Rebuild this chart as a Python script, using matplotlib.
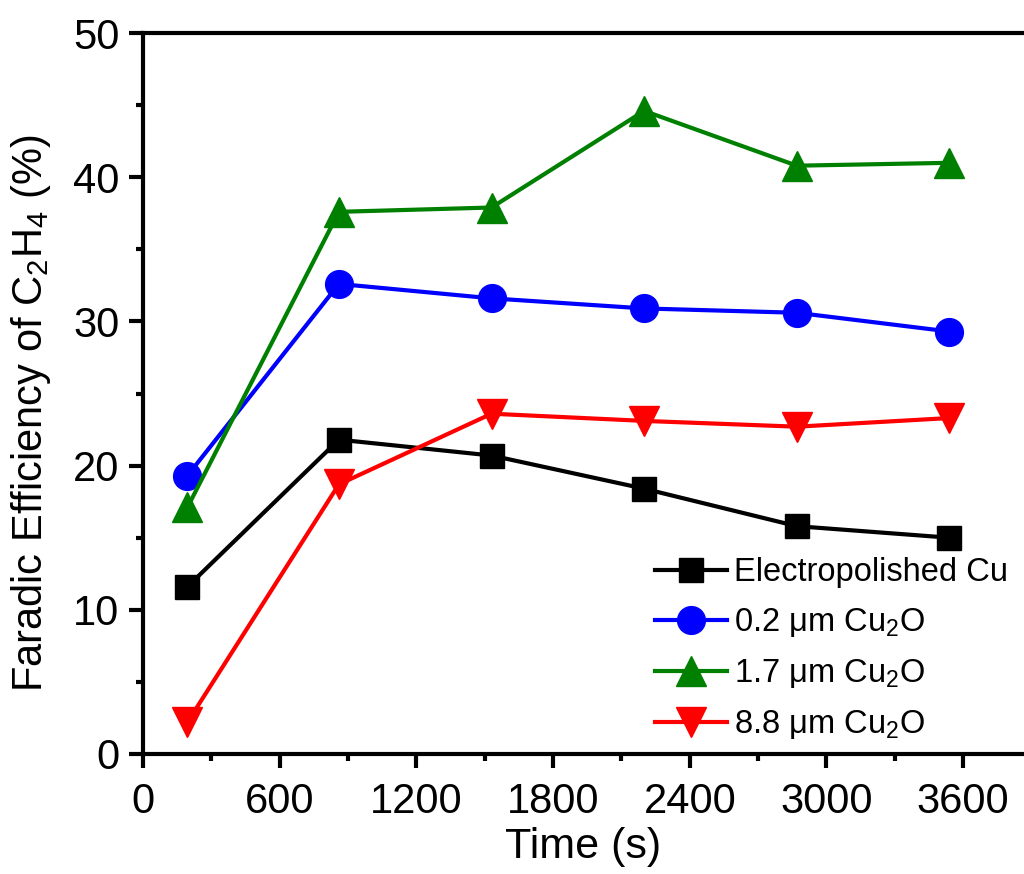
import numpy as np
import matplotlib
matplotlib.use("Agg")
import matplotlib.pyplot as plt

plt.rcParams['font.family'] = ['Liberation Sans', 'DejaVu Sans']
plt.rcParams['mathtext.fontset'] = 'custom'
plt.rcParams['mathtext.rm'] = 'Liberation Sans'
plt.rcParams['mathtext.it'] = 'Liberation Sans:italic'

# data
time_s = [195, 860, 1530, 2200, 2870, 3540]
fe_electropolished = [11.6, 21.8, 20.7, 18.4, 15.8, 15.0]
fe_02um = [19.3, 32.6, 31.6, 30.9, 30.6, 29.3]
fe_17um = [17.1, 37.6, 37.9, 44.6, 40.8, 41.0]
fe_88um = [2.2, 18.7, 23.6, 23.1, 22.7, 23.3]

labels = ["Electropolished Cu",
          r"0.2 $\mathregular{\mu}$m Cu$_\mathregular{2}$O",
          r"1.7 $\mathregular{\mu}$m Cu$_\mathregular{2}$O",
          r"8.8 $\mathregular{\mu}$m Cu$_\mathregular{2}$O"]
x_ticks = [0, 600, 1200, 1800, 2400, 3000, 3600]
y_ticks = [0, 10, 20, 30, 40, 50]

fig = plt.figure(figsize=(10.24, 8.74), dpi=100)
ax = fig.add_axes([0.1396, 0.1373, 0.8604, 0.8249])

series = [(fe_electropolished, 'black', 's', 17.5),
          (fe_02um, '#0000ff', 'o', 20),
          (fe_17um, '#008000', '^', 21),
          (fe_88um, '#ff0000', 'v', 21)]
for (vals, col, mk, ms), lab in zip(series, labels):
    ax.plot(time_s, vals, color=col, marker=mk, markersize=ms, lw=3,
            label=lab, clip_on=False)

ax.set_xlim(0, 3867)
ax.set_ylim(0, 50)
ax.set_xticks(x_ticks)
ax.set_yticks(y_ticks)
ax.set_xticks(np.arange(300, 3867, 600), minor=True)
ax.set_yticks(np.arange(5, 50, 10), minor=True)

ax.spines['right'].set_visible(False)
for s in ['left', 'bottom', 'top']:
    ax.spines[s].set_linewidth(3)
ax.tick_params(which='major', direction='out', length=10, width=3, labelsize=30)
ax.tick_params(axis='x', which='major', pad=10)
ax.tick_params(axis='y', which='major', pad=7)
ax.tick_params(which='minor', direction='out', length=5, width=3)
ax.tick_params(top=False, right=False, which='both')

ax.set_xlabel("Time (s)", fontsize=31, labelpad=4)
ax.set_ylabel(r"Faradic Efficiency of C$_\mathregular{2}$H$_\mathregular{4}$ (%)", fontsize=30)
ax.yaxis.set_label_coords(-0.102, 0.473)

leg = ax.legend(loc='lower right', bbox_to_anchor=(1.0, -0.005), frameon=False,
                fontsize=23.5, handlelength=2.2, handletextpad=0.2, labelspacing=0.55,
                borderaxespad=0.1)

fig.savefig("out.png", dpi=100)
